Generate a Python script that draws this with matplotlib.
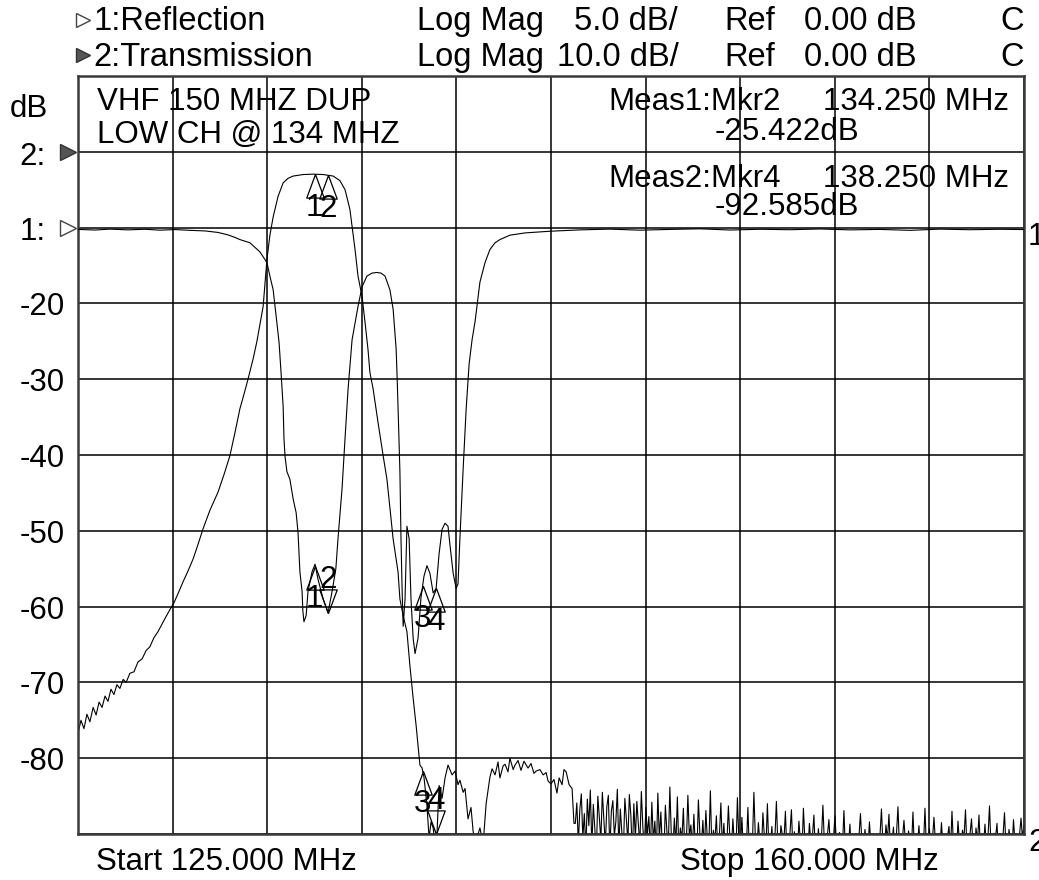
"""Network analyser screen: VHF duplexer low channel, reflection + transmission."""

import matplotlib

matplotlib.use("Agg")
import matplotlib.pyplot as plt
import numpy as np

W, H = 1039, 880

plt.rcParams.update(
    {
        "font.family": ["Liberation Sans", "DejaVu Sans"],
        "font.size": 22.5,
    }
)

# sweep
START_MHZ = 125.0
STOP_MHZ = 160.0

# trace 2: transmission, Log Mag 10 dB/div, ref 0 dB
trans_freq = [
    125.00, 125.11, 125.22, 125.33, 125.44, 125.56, 125.67, 125.78, 125.89, 126.00,
    126.11, 126.22, 126.33, 126.44, 126.55, 126.67, 126.78, 126.92, 127.07, 127.22,
    127.37, 127.52, 127.66, 127.81, 127.96, 128.11, 128.26, 128.40, 128.55, 128.70,
    128.89, 129.07, 129.26, 129.44, 129.63, 129.88, 130.18, 130.40, 130.62, 130.81,
    130.99, 131.14, 131.29, 131.48, 131.62, 131.73, 131.85, 131.99, 132.10, 132.22,
    132.40, 132.59, 132.77, 132.96, 133.33, 133.70, 134.07, 134.44, 134.69, 134.88,
    135.06, 135.25, 135.36, 135.51, 135.62, 135.73, 135.80, 135.92, 136.10, 136.29,
    136.43, 136.54, 136.66, 136.84, 136.91, 137.03, 137.17, 137.28, 137.40, 137.51,
    137.58, 137.65, 137.73, 137.80, 137.91, 137.99, 138.06, 138.14, 138.25, 138.36,
    138.47, 138.58, 138.69, 138.84, 138.95, 139.06, 139.13, 139.25, 139.32, 139.43,
    139.54, 139.62, 139.69, 139.76, 139.87, 139.99, 140.10, 140.24, 140.32, 140.43,
    140.54, 140.61, 140.73, 140.80, 140.91, 140.98, 141.10, 141.17, 141.28, 141.39,
    141.50, 141.65, 141.76, 141.87, 141.95, 142.09, 142.21, 142.32, 142.39, 142.50,
    142.61, 142.72, 142.80, 142.91, 142.98, 143.06, 143.17, 143.28, 143.35,
]
trans_db = [
    -76.7, -75.0, -76.1, -74.2, -75.2, -73.3, -74.3, -72.6, -73.3, -71.8,
    -72.5, -70.9, -71.6, -70.3, -70.8, -69.6, -70.0, -68.8, -68.6, -67.3,
    -66.9, -65.8, -65.3, -64.1, -63.3, -62.3, -61.3, -60.4, -59.5, -58.3,
    -56.7, -55.3, -53.7, -51.8, -49.7, -47.3, -44.9, -42.6, -40.1, -37.0,
    -33.9, -32.0, -30.0, -27.3, -25.0, -22.8, -20.4, -14.2, -11.0, -8.6,
    -5.9, -4.1, -3.5, -3.2, -3.0, -2.95, -3.0, -3.2, -3.8, -5.0,
    -7.6, -12.9, -16.4, -19.1, -22.5, -26.1, -29.1, -31.3, -35.7, -40.1,
    -43.2, -47.0, -51.1, -55.4, -59.0, -61.2, -63.3, -67.8, -72.1, -75.7,
    -78.3, -80.9, -81.3, -82.5, -86.2, -90.6, -88.4, -89.2, -92.6, -83.6,
    -85.3, -82.6, -80.9, -82.2, -81.7, -83.5, -82.9, -84.5, -84.0, -88.0,
    -86.5, -89.7, -91.2, -90.5, -89.2, -91.3, -86.0, -82.5, -81.4, -82.2,
    -80.5, -82.6, -81.0, -80.8, -81.8, -80.0, -81.5, -80.9, -80.3, -81.6,
    -80.4, -81.3, -80.7, -82.0, -81.7, -81.5, -82.2, -81.9, -83.0, -83.4,
    -82.8, -84.6, -82.6, -83.5, -81.5, -81.8, -83.5, -84.0, -88.6,
]
# noise floor from 143.40 MHz to the stop frequency, one reading per sweep point
floor_start_mhz = 143.40
floor_db = [
    -88.6, -85.9, -91.2, -86.8, -84.7, -90.5, -87.3, -92.1, -85.4, -88.9,
    -84.2, -91.7, -86.1, -89.4, -92.6, -85.0, -87.8, -90.9, -84.5, -88.1,
    -91.5, -86.4, -84.9, -92.3, -87.0, -85.6, -90.2, -88.4, -84.1, -91.9,
    -86.7, -89.8, -92.4, -85.3, -88.0, -91.1, -84.8, -87.5, -92.7, -86.0,
    -90.6, -85.7, -88.7, -91.4, -84.4, -89.1, -92.0, -86.5, -90.1, -87.7,
    -92.2, -85.8, -91.0, -88.3, -92.5, -84.6, -90.7, -87.1, -91.8, -92.9,
    -86.2, -89.6, -91.3, -83.8, -90.4, -92.1, -87.9, -91.6, -85.1, -92.4,
    -89.2, -90.8, -86.6, -92.6, -91.1, -84.9, -90.3, -88.8, -92.0, -87.4,
    -91.7, -92.8, -85.5, -90.0, -91.5, -88.2, -92.3, -86.9, -90.9, -91.4,
    -84.3, -92.2, -89.5, -91.0, -87.6, -92.7, -90.2, -85.9, -91.8, -88.6,
    -92.4, -91.2, -86.3, -90.6, -92.1, -88.0, -91.5, -92.9, -85.2, -90.8,
    -91.9, -87.8, -92.3, -90.1, -91.6, -86.5, -92.6, -89.9, -91.3, -84.5,
    -90.7, -92.0, -88.5, -91.1, -92.5, -87.2, -90.4, -91.8, -86.0, -92.2,
    -91.4, -89.0, -92.8, -90.5, -85.7, -91.7, -92.3, -88.9, -90.2, -91.0,
    -87.0, -92.6, -91.2, -90.0, -86.8, -92.1, -89.7, -91.5, -92.4, -88.3,
    -91.0, -92.7, -86.6, -90.9, -91.6, -92.2, -88.6, -91.3, -90.3, -87.5,
    -92.5, -91.8, -89.3, -92.0, -90.6, -86.2, -91.4, -92.9, -90.1, -88.1,
    -91.7, -92.3, -90.7, -87.6, -91.1, -92.6, -89.8, -90.4, -91.9, -86.9,
    -92.2, -90.8, -91.5, -88.7, -92.8, -90.2, -90.5, -90.3, -90.6, -90.4,
    -87.3, -91.2, -92.4, -89.4, -91.0, -92.1, -88.4, -91.6, -90.9, -92.7,
    -90.3, -90.2, -90.4, -90.3, -86.7, -91.5, -92.3, -88.8, -90.8, -87.4,
    -92.0, -91.3, -89.1, -92.6, -90.1, -86.4, -91.7, -92.4, -90.6, -88.2,
    -91.1, -92.8, -89.6, -90.5, -91.9, -87.1, -92.2, -90.9, -91.4, -88.9,
    -92.5, -90.2, -91.6, -86.6, -92.1, -91.0, -89.3, -92.7, -90.7, -87.8,
    -91.2, -92.3, -90.4, -91.8, -88.5, -92.0, -90.3, -90.2, -90.4, -89.0,
    -92.4, -87.0, -91.5, -90.8, -92.6, -88.3, -91.1, -92.2, -89.5, -90.6,
    -86.8, -91.9, -92.5, -90.1, -88.0, -91.4, -92.8, -89.2, -91.0, -87.5,
    -92.3, -90.7, -91.7, -88.7, -92.0, -90.4, -86.3, -91.6, -92.1, -89.9,
    -90.5, -88.6, -92.7, -91.3, -90.2, -90.3, -87.2, -91.8, -92.4, -89.4,
    -90.9, -92.2, -88.1, -91.2, -90.3, -90.4, -90.2, -87.9, -90.5, -88.8,
]

# trace 1: reflection, Log Mag 5 dB/div, ref 0 dB
refl_freq = [
    125.00, 125.63, 126.18, 126.85, 127.48, 128.03, 128.59, 129.14, 129.70, 130.18,
    130.55, 130.81, 130.99, 131.36, 131.73, 131.99, 132.10, 132.22, 132.29, 132.36,
    132.44, 132.51, 132.59, 132.62, 132.66, 132.73, 132.84, 132.96, 133.07, 133.14,
    133.21, 133.29, 133.32, 133.36, 133.44, 133.51, 133.66, 133.77, 133.88, 134.07,
    134.25, 134.40, 134.54, 134.62, 134.77, 134.88, 134.99, 135.14, 135.36, 135.51,
    135.69, 135.88, 136.06, 136.21, 136.36, 136.54, 136.66, 136.77, 136.80, 136.84,
    136.91, 136.95, 136.99, 137.03, 137.10, 137.17, 137.25, 137.32, 137.40, 137.47,
    137.58, 137.69, 137.80, 137.91, 138.02, 138.14, 138.25, 138.36, 138.47, 138.58,
    138.69, 138.76, 138.88, 138.99, 139.06, 139.13, 139.25, 139.36, 139.47, 139.58,
    139.69, 139.76, 139.87, 140.06, 140.24, 140.43, 140.61, 140.98, 141.54, 142.46,
    143.57, 144.68, 145.79, 146.90, 148.01, 149.12, 150.23, 151.34, 152.45, 153.56,
    154.67, 155.78, 156.89, 158.00, 159.11, 160.00,
]
refl_db = [
    -0.12, -0.16, -0.10, -0.15, -0.11, -0.17, -0.13, -0.18, -0.22, -0.32,
    -0.48, -0.65, -0.79, -1.00, -1.60, -2.30, -3.20, -4.10, -5.20, -6.30,
    -7.60, -9.50, -11.8, -13.9, -15.1, -16.1, -16.6, -17.9, -18.8, -20.1,
    -22.7, -24.0, -25.3, -26.0, -25.6, -24.0, -22.7, -22.2, -23.2, -24.5,
    -25.42, -24.0, -22.5, -20.5, -17.2, -13.9, -10.7, -7.4, -5.2, -3.9,
    -3.2, -3.0, -2.96, -3.0, -3.2, -4.1, -5.4, -8.0, -9.5, -11.8,
    -16.1, -20.5, -23.8, -26.3, -24.5, -19.7, -20.5, -24.5, -27.1, -28.1,
    -27.1, -24.4, -23.0, -22.3, -22.8, -24.1, -23.8, -21.5, -19.9, -19.5,
    -19.7, -20.9, -22.8, -23.8, -23.5, -20.5, -15.9, -12.0, -9.0, -7.4,
    -6.2, -5.2, -3.6, -2.3, -1.45, -1.0, -0.79, -0.50, -0.35, -0.24,
    -0.15, -0.10, -0.17, -0.12, -0.08, -0.16, -0.11, -0.14, -0.09, -0.15,
    -0.12, -0.18, -0.10, -0.14, -0.11, -0.13,
]

# markers 1..4 (MHz)
marker_freq = [133.75, 134.25, 137.75, 138.25]
marker_names = ["1", "2", "3", "4"]
trans_marker_dir = ["up", "up", "up", "down"]
refl_marker_dir = ["up", "down", "up", "up"]

TRANS_YLIM = (-90, 10)
REFL_YLIM = (-40, 10)
grid_labels = [-20, -30, -40, -50, -60, -70, -80]

UP = [(0, 0), (0.37, -1), (-0.37, -1), (0, 0)]
DOWN = [(0, 0), (0.37, 1), (-0.37, 1), (0, 0)]


def draw_markers(ax, freq, vals, dirs, ylim):
    lo, hi = ylim
    for f, name, d in zip(marker_freq, marker_names, dirs):
        v = float(np.interp(f, freq, vals))
        v = min(max(v, lo), hi)
        ax.plot(
            [f], [v],
            marker=UP if d == "up" else DOWN,
            ms=34, mfc="none", mec="black", mew=0.9, ls="none",
        )
        ax.annotate(
            name, xy=(f, v), xytext=(0, -24 if d == "up" else 24),
            textcoords="offset points", ha="center", va="center", fontsize=22.5,
        )


def main():
    fig = plt.figure(figsize=(W / 100, H / 100), dpi=100)
    ax = fig.add_axes([78 / W, 1 - 834 / H, 946 / W, 758 / H])

    ax.set_xlim(START_MHZ, STOP_MHZ)
    ax.set_ylim(*TRANS_YLIM)
    ax.set_xticks(np.linspace(START_MHZ, STOP_MHZ, 11))
    ax.set_yticks(np.arange(TRANS_YLIM[0], TRANS_YLIM[1] + 1, 10))
    ax.grid(True, color="black", lw=1.1)
    ax.tick_params(length=0, labelbottom=False, labelleft=False)
    for sp in ax.spines.values():
        sp.set_color("#3a3a3a")
        sp.set_linewidth(1.8)

    t_freq = trans_freq + list(np.linspace(floor_start_mhz, STOP_MHZ, len(floor_db)))
    t_vals = trans_db + floor_db
    ax.plot(t_freq, t_vals, color="black", lw=0.8)
    draw_markers(ax, t_freq, t_vals, trans_marker_dir, TRANS_YLIM)

    ax2 = ax.twinx()
    ax2.set_ylim(*REFL_YLIM)
    ax2.set_yticks([])
    for sp in ax2.spines.values():
        sp.set_visible(False)
    ax2.plot(refl_freq, refl_db, color="black", lw=0.8)
    draw_markers(ax2, refl_freq, refl_db, refl_marker_dir, REFL_YLIM)

    # screen annotations in pixel space
    ov = fig.add_axes([0, 0, 1, 1])
    ov.set_xlim(0, W)
    ov.set_ylim(H, 0)
    ov.axis("off")
    ov.patch.set_visible(False)

    def gy(v):
        return 76 + (TRANS_YLIM[1] - v) * 758 / (TRANS_YLIM[1] - TRANS_YLIM[0])

    hdr = 23.5
    for x, s in [(93, "1:Reflection"), (417, "Log Mag"), (574, "5.0 dB/"),
                 (724, "Ref"), (804, "0.00 dB"), (1000, "C")]:
        ov.text(x, 30, s, fontsize=hdr, va="baseline")
    for x, s in [(93, "2:Transmission"), (417, "Log Mag"), (557, "10.0 dB/"),
                 (724, "Ref"), (804, "0.00 dB"), (1000, "C")]:
        ov.text(x, 66, s, fontsize=hdr, va="baseline")
    ov.plot([83], [20], marker=">", ms=10, mfc="white", mec="#444444", mew=1.0)
    ov.plot([83], [55], marker=">", ms=10, mfc="#555555", mec="#333333", mew=1.0)

    ov.text(10, 117, "dB", va="baseline")
    ov.text(46, gy(0) + 13, "2:", ha="right", va="baseline")
    ov.text(46, gy(-10) + 12, "1:", ha="right", va="baseline")
    ov.plot([68], [gy(0)], marker=">", ms=12, mfc="#555555", mec="#333333", mew=1.0)
    ov.plot([68], [gy(-10)], marker=">", ms=12, mfc="white", mec="#444444", mew=1.0)
    for v in grid_labels:
        ov.text(65, gy(v) + 12, str(v), ha="right", va="baseline")

    ov.text(97, 110, "VHF 150 MHZ DUP", va="baseline")
    ov.text(97, 143, "LOW CH @ 134 MHZ", va="baseline")
    ov.text(608, 110, "Meas1:Mkr2", va="baseline")
    ov.text(823, 110, "134.250 MHz", va="baseline")
    ov.text(715, 140, "-25.422dB", va="baseline")
    ov.text(608, 187, "Meas2:Mkr4", va="baseline")
    ov.text(823, 187, "138.250 MHz", va="baseline")
    ov.text(715, 215, "-92.585dB", va="baseline")

    ov.text(96, 870, "Start 125.000 MHz", va="baseline")
    ov.text(680, 870, "Stop 160.000 MHz", va="baseline")
    ov.text(1028, 245, "1", va="baseline")
    ov.text(1028, 851, "2", va="baseline")

    fig.savefig("out.png", dpi=100)
    plt.close(fig)


if __name__ == "__main__":
    main()
